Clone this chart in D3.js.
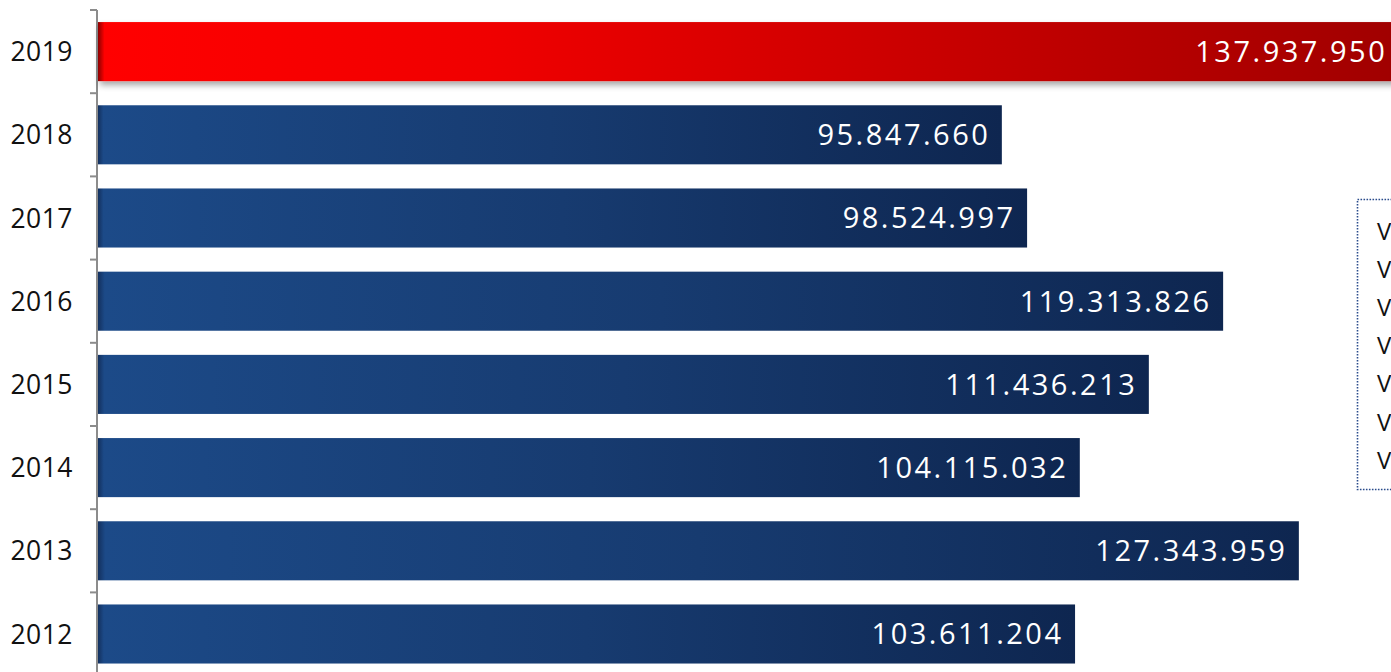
<!DOCTYPE html>
<html>
<head>
<meta charset="utf-8">
<script src="https://cdn.jsdelivr.net/npm/d3@7"></script>
<style>
  html, body { margin: 0; padding: 0; background: #fff; overflow: hidden; }
  svg { display: block; }
  text { font-family: "Open Sans", "Noto Sans", sans-serif; }
</style>
</head>
<body>
<div id="chart"></div>
<script>
(function () {
  "use strict";

  // --- data -----------------------------------------------------------
  var years = ["2019", "2018", "2017", "2016", "2015", "2014", "2013", "2012"];
  var values = [137937950, 95847660, 98524997, 119313826, 111436213, 104115032, 127343959, 103611204];
  var legendItems = ["V", "V", "V", "V", "V", "V", "V"];

  var W = 1391, H = 672;
  var fmt = function (v) { return d3.format(",")(v).replace(/,/g, "."); };

  var svg = d3.select("#chart").append("svg")
    .attr("width", W).attr("height", H);

  // --- layout ---------------------------------------------------------
  var x0 = 98, top = 10, step = 83.2;
  var x = d3.scaleLinear().domain([0, 100e6]).range([x0, x0 + 943]);
  var y = d3.scaleBand().domain(years)
    .range([top, top + step * years.length])
    .paddingInner(0.29).paddingOuter(0.145);
  var ls = 2.5; // letter spacing of value labels

  // --- defs -----------------------------------------------------------
  var defs = svg.append("defs");
  var gb = defs.append("linearGradient").attr("id", "gBlue")
    .attr("x1", 0).attr("x2", 1).attr("y1", 0).attr("y2", 0);
  gb.append("stop").attr("offset", "0").attr("stop-color", "#13305e");
  gb.append("stop").attr("offset", "0.006").attr("stop-color", "#1c4a88");
  gb.append("stop").attr("offset", "0.5").attr("stop-color", "#173b70");
  gb.append("stop").attr("offset", "1").attr("stop-color", "#0e2650");

  var gr = defs.append("linearGradient").attr("id", "gRed")
    .attr("x1", 0).attr("x2", 1).attr("y1", 0).attr("y2", 0);
  gr.append("stop").attr("offset", "0").attr("stop-color", "#8a0000");
  gr.append("stop").attr("offset", "0.005").attr("stop-color", "#ff0000");
  gr.append("stop").attr("offset", "0.3").attr("stop-color", "#f00000");
  gr.append("stop").attr("offset", "1").attr("stop-color", "#a00000");

  var sh = defs.append("filter").attr("id", "sh")
    .attr("x", "-5%").attr("y", "-20%").attr("width", "110%").attr("height", "160%");
  sh.append("feDropShadow").attr("dx", 2).attr("dy", 4).attr("stdDeviation", 3)
    .attr("flood-color", "#000").attr("flood-opacity", 0.35);

  // --- axis -----------------------------------------------------------
  var axis = svg.append("g");
  axis.append("line")
    .attr("x1", x0 - 1).attr("x2", x0 - 1)
    .attr("y1", top).attr("y2", top + step * years.length)
    .attr("stroke", "#8c8c8c").attr("stroke-width", 2);
  axis.selectAll(".tk").data(d3.range(years.length + 1)).enter().append("line")
    .attr("x1", x0 - 8).attr("x2", x0 - 1)
    .attr("y1", function (i) { return top + i * step; })
    .attr("y2", function (i) { return top + i * step; })
    .attr("stroke", "#8c8c8c").attr("stroke-width", 2);
  axis.selectAll(".yl").data(years).enter().append("text")
    .attr("x", 73).attr("y", function (d) { return y(d) + y.bandwidth() / 2; })
    .attr("dy", "0.36em").attr("text-anchor", "end")
    .style("font-size", "26.5px").style("letter-spacing", "0.5px").attr("fill", "#111")
    .text(function (d) { return d; });

  // --- bars -----------------------------------------------------------
  var bars = svg.selectAll(".bar").data(years).enter().append("g");
  bars.append("rect")
    .attr("x", x0)
    .attr("y", function (d) { return y(d); })
    .attr("height", y.bandwidth())
    .attr("width", function (d, i) { return x(values[i]) - x0; })
    .attr("fill", function (d, i) { return i === 0 ? "url(#gRed)" : "url(#gBlue)"; })
    .style("filter", function (d, i) { return i === 0 ? "url(#sh)" : null; });

  bars.append("text")
    .attr("x", function (d, i) { return Math.min(x(values[i]), W + 11) - 14 + ls; })
    .attr("y", function (d) { return y(d) + y.bandwidth() / 2; })
    .attr("dy", "0.36em").attr("text-anchor", "end")
    .style("font-size", "29px").style("letter-spacing", ls + "px")
    .attr("fill", "#fff")
    .text(function (d, i) { return fmt(values[i]); });

  // --- legend (clipped at the right edge) ----------------------------
  var lg = svg.append("g");
  lg.append("rect")
    .attr("x", 1357.5).attr("y", 199.5).attr("width", 100).attr("height", 290)
    .attr("fill", "#fff").attr("stroke", "#2b4c8c")
    .attr("stroke-width", 1.6).attr("stroke-dasharray", "1.6 1.4");
  lg.selectAll(".li").data(legendItems).enter().append("text")
    .attr("x", 1377)
    .attr("y", function (d, i) { return 231 + i * 38.2; })
    .attr("dy", "0.36em")
    .style("font-size", "24px").attr("fill", "#111")
    .text(function (d) { return d; });
})();
</script>
</body>
</html>
